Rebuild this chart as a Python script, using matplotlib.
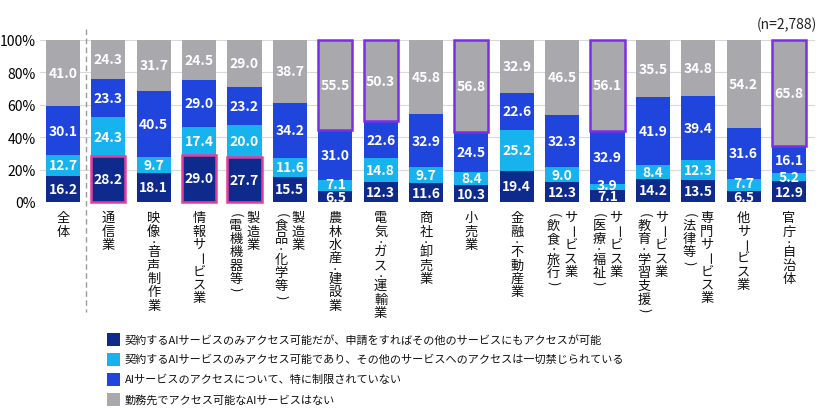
import matplotlib
matplotlib.use("Agg")
import matplotlib.pyplot as plt
from matplotlib.patches import Rectangle
from matplotlib.lines import Line2D
import numpy as np

plt.rcParams['font.family'] = ['Noto Sans CJK JP', 'DejaVu Sans']

# ---------------- data ----------------
categories = [
    "全体", "通信業", "映像・音声制作業", "情報サービス業",
    "製造業\n(電機機器等)", "製造業\n(食品・化学等)", "農林水産・建設業",
    "電気・ガス・運輸業", "商社・卸売業", "小売業", "金融・不動産業",
    "サービス業\n(飲食・旅行)", "サービス業\n(医療・福祉)",
    "サービス業\n(教育・学習支援)", "専門サービス業\n(法律等)",
    "他サービス業", "官庁・自治体",
]
access_on_request = [16.2, 28.2, 18.1, 29.0, 27.7, 15.5, 6.5, 12.3, 11.6,
                     10.3, 19.4, 12.3, 7.1, 14.2, 13.5, 6.5, 12.9]
access_only_contract = [12.7, 24.3, 9.7, 17.4, 20.0, 11.6, 7.1, 14.8, 9.7,
                        8.4, 25.2, 9.0, 3.9, 8.4, 12.3, 7.7, 5.2]
no_restriction = [30.1, 23.3, 40.5, 29.0, 23.2, 34.2, 31.0, 22.6, 32.9,
                  24.5, 22.6, 32.3, 32.9, 41.9, 39.4, 31.6, 16.1]
no_service = [41.0, 24.3, 31.7, 24.5, 29.0, 38.7, 55.5, 50.3, 45.8,
              56.8, 32.9, 46.5, 56.1, 35.5, 34.8, 54.2, 65.8]
legend_labels = [
    "契約するAIサービスのみアクセス可能だが、申請をすればその他のサービスにもアクセスが可能",
    "契約するAIサービスのみアクセス可能であり、その他のサービスへのアクセスは一切禁じられている",
    "AIサービスのアクセスについて、特に制限されていない",
    "勤務先でアクセス可能なAIサービスはない",
]
y_ticks = [0, 20, 40, 60, 80, 100]
n_note = "(n=2,788)"
pink_highlight = [1, 3, 4]          # highlight first segment
purple_highlight = [6, 7, 9, 12, 16]  # highlight last segment

series = [access_on_request, access_only_contract, no_restriction, no_service]
colors = ["#0e2a8c", "#17b3ee", "#1f45dc", "#a9a8ad"]
PINK = "#e23f9c"
PURPLE = "#7b2ee6"

W, H = 820, 410
fig = plt.figure(figsize=(W / 100, H / 100), dpi=100)
ax = fig.add_axes([40 / W, 1 - 203 / H, 775 / W, 162.3 / H])

x = np.arange(len(categories))
bw = 0.75
bottom = np.zeros(len(categories))
prev = None
for vals, col in zip(series, colors):
    vals = np.array(vals)
    ax.bar(x, vals, bw, bottom=bottom, color=col, zorder=2, linewidth=0)
    for j, (xi, b, v) in enumerate(zip(x, bottom, vals)):
        yy = b + v / 2
        if prev is not None and v < 8 and prev[j] < 8:
            yy += 1.5 if v < 5 else 1.3
        ax.text(xi, yy, f"{v:.1f}", ha="center", va="center",
                color="white", fontsize=10, fontweight="bold", zorder=4)
    bottom = bottom + vals
    prev = vals

# highlight boxes
first = np.array(series[0])
for i in pink_highlight:
    ax.add_patch(Rectangle((x[i] - bw / 2, 0), bw, first[i], fill=False,
                           edgecolor=PINK, lw=1.8, zorder=5, clip_on=False))
for i in purple_highlight:
    b = first[i] + series[1][i] + series[2][i]
    ax.add_patch(Rectangle((x[i] - bw / 2, b), bw, 100 - b, fill=False,
                           edgecolor=PURPLE, lw=1.8, zorder=5, clip_on=False))

ax.set_xlim(-0.507, len(categories) - 1 + 0.573)
ax.set_ylim(0, 100)
ax.set_yticks(y_ticks)
ax.set_yticklabels([f"{v}%" for v in y_ticks], fontsize=10)
ax.tick_params(axis="y", length=0, pad=3)
ax.set_xticks([])
ax.grid(axis="y", color="#d9d9d9", lw=0.8, zorder=0)
for s in ax.spines.values():
    s.set_visible(False)

# vertical category labels
FS = 9.5
PITCH = 9.6      # points per full cell
HALF = 0.55      # relative cell size for dots / parentheses
TOP = 6.5        # points below axis
COLX = 6.2       # points


def vcol(xi, text, dx):
    off = TOP
    for ch in text:
        rot = 0
        c = ch
        cell = 1.0
        fs = FS
        if ch in "(（":
            c = "("
            rot = -90
            cell = HALF
        elif ch in ")）":
            c = ")"
            rot = -90
            cell = HALF
        elif ch == "・":
            cell = HALF
            fs = 6.0
        elif ch == "ー":
            rot = -90
        ax.annotate(c, xy=(xi, 0), xycoords=("data", "axes fraction"),
                    xytext=(dx, -(off + cell * PITCH / 2)),
                    textcoords="offset points", ha="center", va="center",
                    rotation=rot, fontsize=fs, color="#111111",
                    annotation_clip=False)
        off += cell * PITCH


for xi, cat in zip(x, categories):
    cols = cat.split("\n")
    if len(cols) == 1:
        vcol(xi, cols[0], 0)
    else:
        vcol(xi, cols[0], COLX)
        vcol(xi, cols[1], -COLX)

# dashed separator
sx = ax.transData.transform((0.5, 0))[0] / W
fig.add_artist(Line2D([sx, sx], [1 - 30 / H, 1 - 313 / H],
                      transform=fig.transFigure, color="#9a9a9a",
                      lw=1.0, ls=(0, (4, 2.5))))

# n note
fig.text(817 / W, 1 - 25 / H, n_note, ha="right", va="center", fontsize=10,
         color="#222222")

# legend
rows_y = [340, 360, 380, 400]
for yy, lab, col in zip(rows_y, legend_labels, colors):
    fig.add_artist(Rectangle((107 / W, 1 - (yy + 6.5) / H), 13 / W, 13 / H,
                             transform=fig.transFigure, facecolor=col,
                             edgecolor="none"))
    fig.text(125 / W, 1 - yy / H, lab, ha="left", va="center", fontsize=8,
             color="#111111")

fig.savefig("out.png", dpi=100)
